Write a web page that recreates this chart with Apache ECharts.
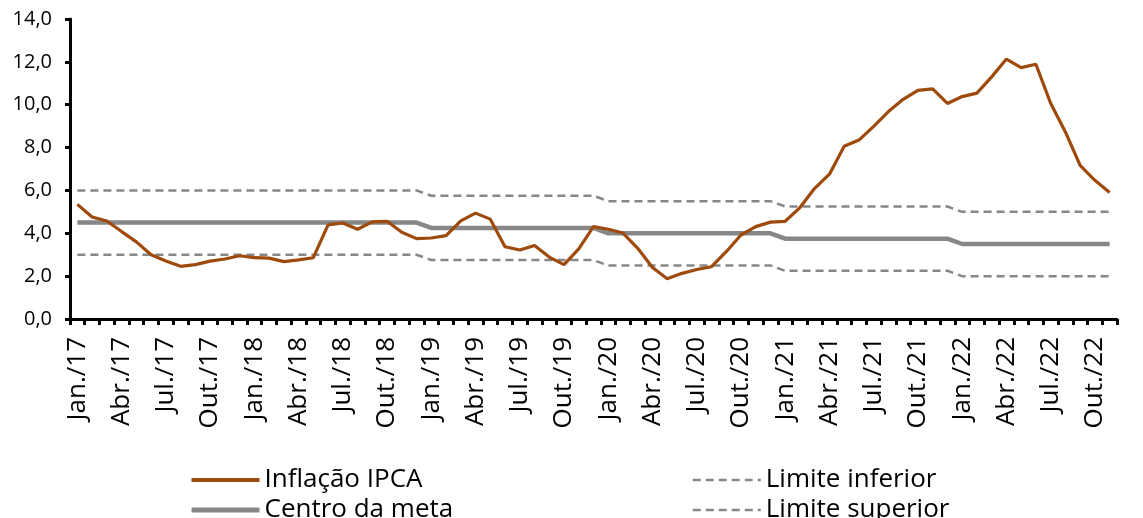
<!DOCTYPE html>
<html>
<head>
<meta charset="utf-8">
<script src="https://cdn.jsdelivr.net/npm/echarts@6/dist/echarts.min.js"></script>
<style>
  html, body { margin: 0; padding: 0; background: #fff; }
  #chart { width: 1143px; height: 518px; }
</style>
</head>
<body>
<div id="chart"></div>
<script>
// Monthly categories, Jan/2017 – Nov/2022
const monthAbbr = ['Jan.', 'Fev.', 'Mar.', 'Abr.', 'Mai.', 'Jun.', 'Jul.', 'Ago.', 'Set.', 'Out.', 'Nov.', 'Dez.'];
const years = ['17', '18', '19', '20', '21', '22'];
const monthCount = 71;

// IPCA, 12-month accumulated (%)
const ipca = [
  5.35, 4.76, 4.57, 4.08, 3.60, 3.00, 2.71, 2.46, 2.54, 2.70, 2.80, 2.95,
  2.86, 2.84, 2.68, 2.76, 2.86, 4.39, 4.48, 4.19, 4.53, 4.56, 4.05, 3.75,
  3.78, 3.89, 4.58, 4.94, 4.66, 3.37, 3.22, 3.43, 2.89, 2.54, 3.27, 4.31,
  4.19, 4.01, 3.30, 2.40, 1.88, 2.13, 2.31, 2.44, 3.14, 3.92, 4.31, 4.52,
  4.56, 5.20, 6.10, 6.76, 8.06, 8.35, 8.99, 9.68, 10.25, 10.67, 10.74, 10.06,
  10.38, 10.54, 11.30, 12.13, 11.73, 11.89, 10.07, 8.73, 7.17, 6.47, 5.90
];

// Inflation target: centre and tolerance band (%)
const centroMeta = [
  4.5, 4.5, 4.5, 4.5, 4.5, 4.5, 4.5, 4.5, 4.5, 4.5, 4.5, 4.5,
  4.5, 4.5, 4.5, 4.5, 4.5, 4.5, 4.5, 4.5, 4.5, 4.5, 4.5, 4.5,
  4.25, 4.25, 4.25, 4.25, 4.25, 4.25, 4.25, 4.25, 4.25, 4.25, 4.25, 4.25,
  4.0, 4.0, 4.0, 4.0, 4.0, 4.0, 4.0, 4.0, 4.0, 4.0, 4.0, 4.0,
  3.75, 3.75, 3.75, 3.75, 3.75, 3.75, 3.75, 3.75, 3.75, 3.75, 3.75, 3.75,
  3.5, 3.5, 3.5, 3.5, 3.5, 3.5, 3.5, 3.5, 3.5, 3.5, 3.5
];
const limiteInferior = [
  3.0, 3.0, 3.0, 3.0, 3.0, 3.0, 3.0, 3.0, 3.0, 3.0, 3.0, 3.0,
  3.0, 3.0, 3.0, 3.0, 3.0, 3.0, 3.0, 3.0, 3.0, 3.0, 3.0, 3.0,
  2.75, 2.75, 2.75, 2.75, 2.75, 2.75, 2.75, 2.75, 2.75, 2.75, 2.75, 2.75,
  2.5, 2.5, 2.5, 2.5, 2.5, 2.5, 2.5, 2.5, 2.5, 2.5, 2.5, 2.5,
  2.25, 2.25, 2.25, 2.25, 2.25, 2.25, 2.25, 2.25, 2.25, 2.25, 2.25, 2.25,
  2.0, 2.0, 2.0, 2.0, 2.0, 2.0, 2.0, 2.0, 2.0, 2.0, 2.0
];
const limiteSuperior = [
  6.0, 6.0, 6.0, 6.0, 6.0, 6.0, 6.0, 6.0, 6.0, 6.0, 6.0, 6.0,
  6.0, 6.0, 6.0, 6.0, 6.0, 6.0, 6.0, 6.0, 6.0, 6.0, 6.0, 6.0,
  5.75, 5.75, 5.75, 5.75, 5.75, 5.75, 5.75, 5.75, 5.75, 5.75, 5.75, 5.75,
  5.5, 5.5, 5.5, 5.5, 5.5, 5.5, 5.5, 5.5, 5.5, 5.5, 5.5, 5.5,
  5.25, 5.25, 5.25, 5.25, 5.25, 5.25, 5.25, 5.25, 5.25, 5.25, 5.25, 5.25,
  5.0, 5.0, 5.0, 5.0, 5.0, 5.0, 5.0, 5.0, 5.0, 5.0, 5.0
];

const categories = [];
years.forEach(y => monthAbbr.forEach(m => categories.push(m + '/' + y)));
categories.length = monthCount;

const FONT = '"Open Sans", "Noto Sans", sans-serif';
const BROWN = '#9E4A0C';
const GRAY = '#878787';
const fmt = v => v.toFixed(1).replace('.', ',');

const chart = echarts.init(document.getElementById('chart'), null, { renderer: 'canvas' });

const ipcaData = ipca.map((v, i) => i === ipca.length - 1
  ? { value: v, label: { show: true, position: 'top', offset: [14, 0], formatter: p => fmt(p.value),
      fontSize: 26, fontFamily: FONT, color: '#000' } }
  : v);

chart.setOption({
  animation: false,
  backgroundColor: '#fff',
  grid: { left: 70, right: 26, top: 19, bottom: 199, containLabel: false },
  // two columns: fixed text width makes the second column line up
  legend: {
    data: [
      { name: 'Inflação IPCA', lineStyle: { width: 4 } },
      { name: 'Limite inferior', lineStyle: { width: 2.5 } },
      { name: 'Centro da meta', lineStyle: { width: 5 } },
      { name: 'Limite superior', lineStyle: { width: 2.5 } }
    ],
    orient: 'horizontal', left: 184, top: 460, width: 1020,
    itemWidth: 68, itemHeight: 14, itemGap: 0,
    itemStyle: { opacity: 0 },
    textStyle: { fontSize: 26, fontFamily: FONT, color: '#000', lineHeight: 30, width: 427, overflow: 'none' }
  },
  xAxis: {
    type: 'category',
    data: categories,
    boundaryGap: true,
    axisLine: { lineStyle: { color: '#000', width: 3 } },
    axisTick: { show: true, interval: 0, length: 6, lineStyle: { color: '#000', width: 3 } },
    axisLabel: {
      interval: 2, rotate: 90, margin: 18,
      fontSize: 26, fontFamily: FONT, color: '#000'
    },
    splitLine: { show: false }
  },
  yAxis: {
    type: 'value',
    min: 0, max: 14, interval: 2,
    axisLine: { show: true, lineStyle: { color: '#000', width: 3 } },
    axisTick: { show: true, length: 5, lineStyle: { color: '#000', width: 3 } },
    axisLabel: { margin: 18, fontSize: 20, fontFamily: FONT, color: '#000', formatter: fmt },
    splitLine: { show: false }
  },
  series: [
    {
      name: 'Limite superior', type: 'line', data: limiteSuperior,
      symbol: 'none', z: 2,
      lineStyle: { color: GRAY, width: 2.5, type: [8, 5] },
      itemStyle: { color: GRAY }
    },
    {
      name: 'Limite inferior', type: 'line', data: limiteInferior,
      symbol: 'none', z: 2,
      lineStyle: { color: GRAY, width: 2.5, type: [8, 5] },
      itemStyle: { color: GRAY }
    },
    {
      name: 'Centro da meta', type: 'line', data: centroMeta,
      symbol: 'none', z: 3,
      lineStyle: { color: GRAY, width: 4.5 },
      itemStyle: { color: GRAY }
    },
    {
      name: 'Inflação IPCA', type: 'line', data: ipcaData,
      symbol: 'none', z: 4,
      lineStyle: { color: BROWN, width: 3.2 },
      itemStyle: { color: BROWN }
    }
  ]
});
</script>
</body>
</html>
